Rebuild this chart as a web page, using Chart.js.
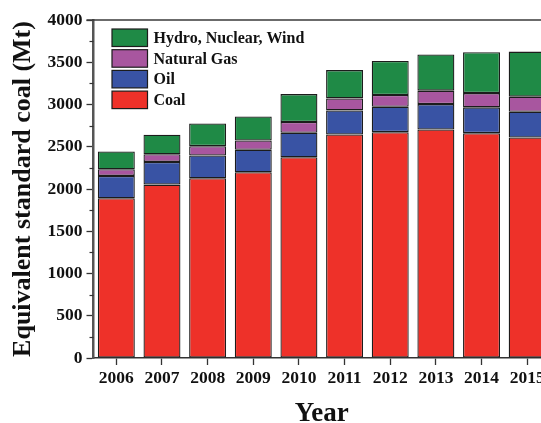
<!DOCTYPE html>
<html>
<head>
<meta charset="utf-8">
<script src="https://cdn.jsdelivr.net/npm/chart.js@4.4.1/dist/chart.umd.min.js"></script>
<style>
  html, body { margin: 0; padding: 0; overflow: hidden; background: #fff; width: 541px; height: 423px; }
  #wrap { width: 557px; height: 430px; position: relative; }
</style>
</head>
<body>
<div id="wrap"><canvas id="c" width="557" height="430"></canvas></div>
<script>
// Primary energy consumption by source, Mt of standard coal equivalent
const years = ['2006', '2007', '2008', '2009', '2010', '2011', '2012', '2013', '2014', '2015'];
const coal = [1890, 2052, 2127, 2198, 2376, 2645, 2673, 2705, 2661, 2610];
const oil = [265, 269, 269, 266, 289, 285, 301, 300, 305, 305];
const naturalGas = [79, 91, 111, 110, 128, 142, 138, 159, 169, 178];
const hydroNuclearWind = [210, 230, 269, 285, 330, 335, 403, 427, 483, 533];
const yMajorStep = 500;
const yMinorTicks = [250, 750, 1250, 1750, 2250, 2750, 3250, 3750];

const SERIF = "'Liberation Serif', 'Times New Roman', serif";
const EDGE = '#1c1c1c';

// Frame top line, minor y ticks and the in-plot legend
const decorations = {
  id: 'decorations',
  afterDraw(chart) {
    const { ctx, chartArea: a, scales } = chart;
    ctx.save();
    ctx.strokeStyle = '#3a3a3a';
    ctx.lineWidth = 1.5;
    ctx.beginPath();
    ctx.moveTo(a.left - 7, a.top);
    ctx.lineTo(a.right, a.top);
    ctx.stroke();

    ctx.lineWidth = 1.2;
    ctx.strokeStyle = '#333';
    yMinorTicks.forEach(v => {
      const py = Math.round(scales.y.getPixelForValue(v)) + 0.5;
      ctx.beginPath();
      ctx.moveTo(a.left - 4, py);
      ctx.lineTo(a.left, py);
      ctx.stroke();
    });

    const items = chart.data.datasets.slice().reverse();
    const bx = a.left + 18.5, by0 = a.top + 9, bw = 35.5, bh = 17.5, gap = 20.7;
    ctx.font = `bold 16px ${SERIF}`;
    ctx.textBaseline = 'middle';
    ctx.textAlign = 'left';
    items.forEach((ds, i) => {
      const by = by0 + i * gap;
      ctx.fillStyle = ds.backgroundColor;
      ctx.fillRect(bx, by, bw, bh);
      ctx.strokeStyle = EDGE;
      ctx.lineWidth = 1.2;
      ctx.strokeRect(bx, by, bw, bh);
      ctx.fillStyle = '#111';
      ctx.fillText(ds.label, bx + bw + 6, by + bh / 2 + 1);
    });
    ctx.restore();
  }
};

const barStyle = { borderColor: EDGE, borderWidth: 1.3, borderSkipped: false, barPercentage: 0.81, categoryPercentage: 1 };

new Chart(document.getElementById('c'), {
  type: 'bar',
  data: {
    labels: years,
    datasets: [
      { label: 'Coal', data: coal, backgroundColor: '#EE3129', ...barStyle },
      { label: 'Oil', data: oil, backgroundColor: '#3953A4', ...barStyle },
      { label: 'Natural Gas', data: naturalGas, backgroundColor: '#A8569F', ...barStyle },
      { label: 'Hydro, Nuclear, Wind', data: hydroNuclearWind, backgroundColor: '#1F8A46', ...barStyle }
    ]
  },
  options: {
    responsive: false,
    animation: false,
    devicePixelRatio: 1,
    layout: { padding: { top: 20, right: 7, left: 0, bottom: 0 } },
    plugins: { legend: { display: false }, tooltip: { enabled: false } },
    scales: {
      x: {
        stacked: true,
        afterFit(scale) { scale.height = 72; },
        grid: { display: true, drawOnChartArea: false, offset: false, drawTicks: true, tickLength: 7, tickColor: '#333', tickWidth: 1.3 },
        border: { display: true, color: '#333', width: 1.6 },
        ticks: { color: '#111', padding: 3, autoSkip: false, maxRotation: 0, font: { family: SERIF, size: 17.5, weight: 'bold' } },
        title: { display: true, text: 'Year', color: '#111', padding: { top: 0, bottom: 0 }, font: { family: SERIF, size: 27, weight: 'bold' } }
      },
      y: {
        stacked: true,
        min: 0,
        max: 4000,
        afterFit(scale) { scale.width = 93.5; },
        grid: { display: true, drawOnChartArea: false, drawTicks: true, tickLength: 7, tickColor: '#333', tickWidth: 1.3 },
        border: { display: true, color: '#555', width: 2.5 },
        ticks: { stepSize: yMajorStep, color: '#111', padding: 4, callback: v => String(v), font: { family: SERIF, size: 17.5, weight: 'bold' } },
        title: { display: true, text: 'Equivalent standard coal (Mt)', color: '#111', padding: { top: 8, bottom: 0 }, font: { family: SERIF, size: 26, weight: 'bold' } }
      }
    }
  },
  plugins: [decorations]
});
</script>
</body>
</html>
